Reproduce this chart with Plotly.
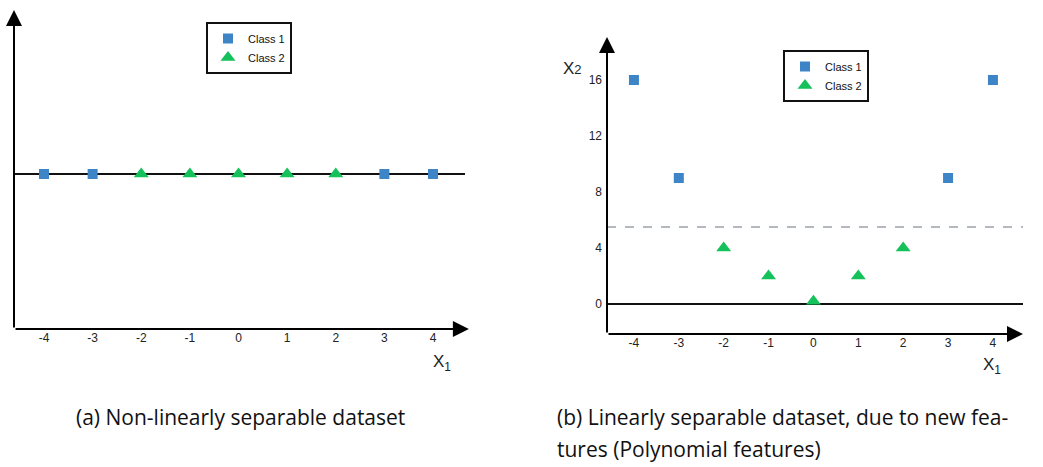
import plotly.graph_objects as go

# ---- data ----
x_vals = [-4, -3, -2, -1, 0, 1, 2, 3, 4]
x_labels = ["-4", "-3", "-2", "-1", "0", "1", "2", "3", "4"]
class1_x = [-4, -3, 3, 4]
class2_x = [-2, -1, 0, 1, 2]
# panel (a): all on the single feature line
class1_y_a = [0, 0, 0, 0]
class2_y_a = [0, 0, 0, 0, 0]
# panel (b): new feature x2
class1_y_b = [16, 9, 9, 16]
class2_y_b = [4, 2, 0.2, 2, 4]
y_ticks_b = [0, 4, 8, 12, 16]
y_labels_b = ["0", "4", "8", "12", "16"]
threshold_b = 5.5

BLUE = "#3d85c6"
GREEN = "#15c15a"
TICKFONT = dict(family="Liberation Sans, Arial", size=12, color="#222")

fig = go.Figure()

# panel (a)
fig.add_trace(go.Scatter(x=class1_x, y=class1_y_a, mode="markers", name="Class 1",
                         marker=dict(symbol="square", size=10, color=BLUE),
                         xaxis="x", yaxis="y", legend="legend", cliponaxis=False))
fig.add_trace(go.Scatter(x=class2_x, y=class2_y_a, mode="markers", name="Class 2",
                         marker=dict(symbol="triangle-up", size=13, color=GREEN),
                         xaxis="x", yaxis="y", legend="legend", cliponaxis=False))
# panel (b)
fig.add_trace(go.Scatter(x=class1_x, y=class1_y_b, mode="markers", name="Class 1",
                         marker=dict(symbol="square", size=10, color=BLUE),
                         xaxis="x2", yaxis="y2", legend="legend2", cliponaxis=False))
fig.add_trace(go.Scatter(x=class2_x, y=class2_y_b, mode="markers", name="Class 2",
                         marker=dict(symbol="triangle-up", size=13, color=GREEN),
                         xaxis="x2", yaxis="y2", legend="legend2", cliponaxis=False))

W, H = 1043, 467
xa_rng = [-4.617, 4.658]
ya_rng = [-1, 1.058]
xb_rng = [-4.60, 4.67]
yb_rng = [-2.143, 19.071]

LEGFONT = dict(family="Liberation Sans, Arial", size=11, color="#111")
fig.update_layout(
    width=W, height=H,
    margin=dict(l=0, r=0, t=0, b=0),
    paper_bgcolor="white", plot_bgcolor="white",
    xaxis=dict(domain=[14 / W, 465 / W], range=xa_rng, tickvals=x_vals,
               ticktext=x_labels,
               showgrid=False, zeroline=False, showline=False, ticks="",
               tickfont=TICKFONT, anchor="y"),
    yaxis=dict(domain=[(H - 329) / H, (H - 10) / H], range=ya_rng,
               showgrid=False, zeroline=False, showline=False,
               showticklabels=False, anchor="x"),
    xaxis2=dict(domain=[607 / W, 1023 / W], range=xb_rng, tickvals=x_vals,
                ticktext=x_labels,
                showgrid=False, zeroline=False, showline=False, ticks="",
                tickfont=TICKFONT, anchor="y2"),
    yaxis2=dict(domain=[(H - 334) / H, (H - 37) / H], range=yb_rng,
                tickvals=y_ticks_b, ticktext=y_labels_b, showgrid=False,
                zeroline=False, showline=False, ticks="", tickfont=TICKFONT,
                ticklabelstandoff=4, anchor="x2"),
    legend=dict(x=206 / W, y=1 - 22 / H, xanchor="left", yanchor="top",
                bgcolor="white", bordercolor="#111", borderwidth=2,
                font=LEGFONT, itemwidth=30, tracegroupgap=0),
    legend2=dict(x=783 / W, y=1 - 50 / H, xanchor="left", yanchor="top",
                 bgcolor="white", bordercolor="#111", borderwidth=2,
                 font=LEGFONT, itemwidth=30, tracegroupgap=0),
    showlegend=True,
)

# horizontal lines through data
fig.add_shape(type="line", xref="x", yref="y", x0=xa_rng[0], x1=xa_rng[1], y0=0, y1=0,
              line=dict(color="#111", width=2), layer="below")
fig.add_shape(type="line", xref="x2", yref="y2", x0=xb_rng[0], x1=xb_rng[1], y0=0, y1=0,
              line=dict(color="#111", width=2), layer="below")
fig.add_shape(type="line", xref="x2", yref="y2", x0=xb_rng[0], x1=xb_rng[1],
              y0=threshold_b, y1=threshold_b,
              line=dict(color="#9aa3ab", width=1.5, dash="dash"), layer="below")

# axis arrows
def arrow(xref, yref, x0, y0, x1, y1):
    fig.add_annotation(x=x1, y=y1, ax=x0, ay=y0, xref=xref, yref=yref,
                       axref=xref, ayref=yref, showarrow=True, text="",
                       arrowhead=2, arrowsize=1.6, arrowwidth=2, arrowcolor="#000",
                       standoff=0, startstandoff=0)

arrow("x", "y", xa_rng[0], ya_rng[0], xa_rng[1] + 0.08, ya_rng[0])
arrow("x", "y", xa_rng[0], ya_rng[0], xa_rng[0], ya_rng[1])
arrow("x2", "y2", xb_rng[0], yb_rng[0], xb_rng[1], yb_rng[0])
arrow("x2", "y2", xb_rng[0], yb_rng[0], xb_rng[0], yb_rng[1])

LABELFONT = dict(family="Liberation Sans, Arial", size=17, color="#222")
fig.add_annotation(x=442 / W, y=1 - 376 / H, xref="paper", yref="paper",
                   text="X<sub>1</sub>", showarrow=False, font=LABELFONT)
fig.add_annotation(x=1003 / W, y=1 - 379 / H, xref="paper", yref="paper",
                   text="X<sub>1</sub>", showarrow=False, font=LABELFONT)
fig.add_annotation(x=572 / W, y=1 - 57 / H, xref="paper", yref="paper",
                   text="X<span style='font-size:13px'>2</span>", showarrow=False,
                   font=LABELFONT)

CAPFONT = dict(family="Open Sans, Noto Sans", size=21, color="#111")
fig.add_annotation(x=240 / W, y=1 - 417 / H, xref="paper", yref="paper",
                   text="(a) Non-linearly separable dataset", showarrow=False,
                   font=CAPFONT, xanchor="center", yanchor="middle")
fig.add_annotation(x=555 / W, y=1 - 417 / H, xref="paper", yref="paper",
                   text="(b) Linearly separable dataset, due to new fea-", showarrow=False,
                   font=CAPFONT, xanchor="left", yanchor="middle")
fig.add_annotation(x=555 / W, y=1 - 449 / H, xref="paper", yref="paper",
                   text="tures (Polynomial features)", showarrow=False,
                   font=CAPFONT, xanchor="left", yanchor="middle")

fig.write_html("out.html")
